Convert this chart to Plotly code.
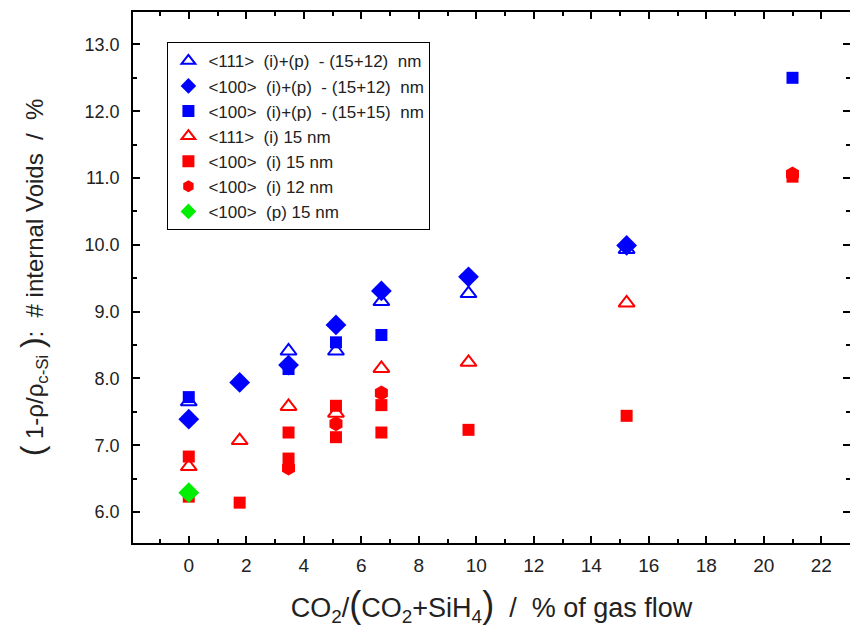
import plotly.graph_objects as go

# ---- data ----
x_b_tri = [0, 3.47, 5.12, 6.70, 9.73, 15.23]
y_b_tri = [7.65, 8.41, 8.41, 9.15, 9.27, 9.93]

x_b_dia = [0, 1.77, 3.47, 5.12, 6.70, 9.73, 15.23]
y_b_dia = [7.39, 7.94, 8.20, 8.80, 9.31, 9.52, 9.99]

x_b_sq = [0, 3.47, 5.12, 6.70, 21.0]
y_b_sq = [7.72, 8.14, 8.54, 8.65, 12.50]

x_r_tri = [0, 1.77, 3.47, 5.12, 6.70, 9.73, 15.23]
y_r_tri = [6.68, 7.07, 7.58, 7.48, 8.15, 8.24, 9.13]

x_r_sq = [0, 0, 1.77, 3.47, 3.47, 5.12, 5.12, 6.70, 6.70, 9.73, 15.23, 21.0]
y_r_sq = [6.83, 6.23, 6.14, 7.19, 6.80, 7.59, 7.12, 7.60, 7.19, 7.23, 7.44, 11.02]

x_r_hex = [3.47, 5.12, 6.70, 21.0]
y_r_hex = [6.66, 7.32, 7.78, 11.06]

x_g_dia = [0]
y_g_dia = [6.29]

names = [
    "&lt;111&gt;  (i)+(p)  - (15+12)  nm",
    "&lt;100&gt;  (i)+(p)  - (15+12)  nm",
    "&lt;100&gt;  (i)+(p)  - (15+15)  nm",
    "&lt;111&gt;  (i) 15 nm",
    "&lt;100&gt;  (i) 15 nm",
    "&lt;100&gt;  (i) 12 nm",
    "&lt;100&gt;  (p) 15 nm",
]

BLUE = "#0000ff"
RED = "#ff0000"
GREEN = "#00ee00"

series = [
    (x_b_tri, y_b_tri, "triangle-up-open", BLUE, 14),
    (x_b_dia, y_b_dia, "diamond", BLUE, 16),
    (x_b_sq, y_b_sq, "square", BLUE, 12),
    (x_r_tri, y_r_tri, "triangle-up-open", RED, 14),
    (x_r_sq, y_r_sq, "square", RED, 12),
    (x_r_hex, y_r_hex, "hexagon", RED, 15),
    (x_g_dia, y_g_dia, "diamond", GREEN, 16),
]

fig = go.Figure()
for (xs, ys, sym, col, sz), nm in zip(series, names):
    fig.add_trace(go.Scatter(
        x=xs, y=ys, mode="markers", name=nm,
        marker=dict(symbol=sym, color=col, size=sz,
                    line=dict(color=col, width=2 if "open" in sym else 0)),
    ))

SANS = "Liberation Sans, Arial, sans-serif"
NARROW = "Liberation Sans Narrow, Arial Narrow, Liberation Sans, sans-serif"

axis_common = dict(
    showgrid=False, zeroline=False, showline=True, linecolor="black", linewidth=1.5,
    mirror="allticks", ticks="inside", ticklen=7, tickwidth=1.5, tickcolor="black",
    automargin=False,
)

fig.update_layout(
    width=850, height=633,
    margin=dict(l=133, r=0, t=12, b=90),
    paper_bgcolor="white", plot_bgcolor="white",
    showlegend=True,
    legend=dict(
        x=0.048, y=0.943, xanchor="left", yanchor="top",
        bgcolor="white", bordercolor="black", borderwidth=1,
        font=dict(family=SANS, size=17, color="#222"),
        tracegroupgap=0, itemsizing="constant",
    ),
    xaxis=dict(
        range=[-1.94, 23.0], tickmode="linear", tick0=0, dtick=2,
        minor=dict(ticks="inside", ticklen=4, tickwidth=1.5, tickcolor="black", dtick=1, tick0=1),
        tickfont=dict(family=NARROW, size=19, color="#222"),
        ticklabelstandoff=4,
        title=dict(
            text="CO<sub>2</sub>/<span style='font-size:36px'>(</span>CO<sub>2</sub>+SiH<sub>4</sub><span style='font-size:36px'>)</span>  /  % of gas flow",
            font=dict(family=NARROW, size=27, color="#222"),
            standoff=24,
        ),
        **axis_common,
    ),
    yaxis=dict(
        range=[5.536, 13.485], tickmode="linear", tick0=6, dtick=1, tickformat=".1f",
        minor=dict(ticks="inside", ticklen=4, tickwidth=1.5, tickcolor="black", dtick=0.5),
        tickfont=dict(family=SANS, size=18, color="#222"),
        ticklabelstandoff=8,
        title=dict(
            text="<span style='font-size:32px'>(</span> 1-ρ/ρ<sub>c-Si</sub> <span style='font-size:32px'>)</span>:  # internal Voids  /  %",
            font=dict(family=SANS, size=24, color="#222"),
            standoff=34,
        ),
        **axis_common,
    ),
)

fig.write_html(
    "out.html",
    config={"displayModeBar": False},
    post_script="document.body.style.margin='0';document.body.style.overflow='hidden';",
)
